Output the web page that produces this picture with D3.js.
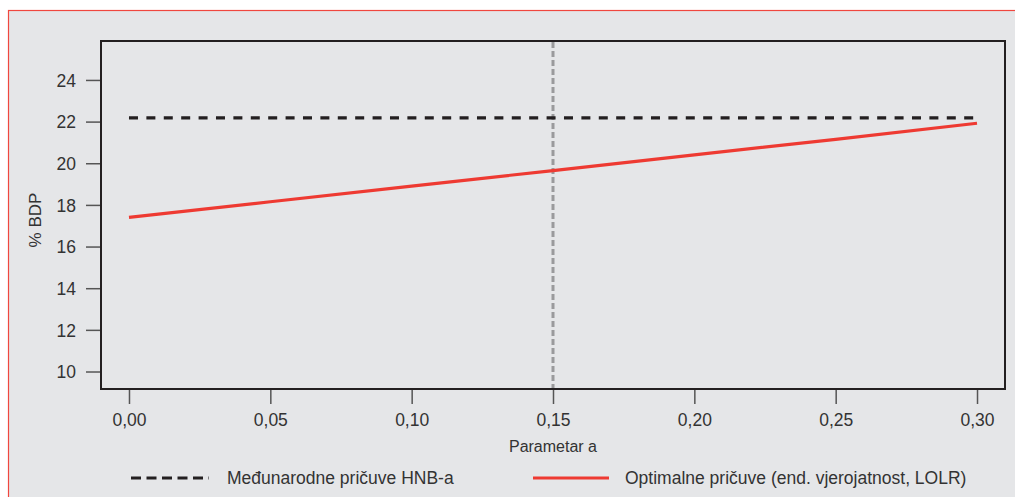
<!DOCTYPE html>
<html>
<head>
<meta charset="utf-8">
<script src="https://cdn.jsdelivr.net/npm/d3@7"></script>
<style>
  body { margin: 0; background: #fff; }
  svg text { font-family: "Liberation Sans", Arial, sans-serif; fill: #333; }
</style>
</head>
<body>
<svg id="chart" width="1015" height="497"></svg>
<script>
// data
var aValues = [0.00, 0.05, 0.10, 0.15, 0.20, 0.25, 0.30];
var hnbReserves = [22.18, 22.18, 22.18, 22.18, 22.18, 22.18, 22.18];
var optimalReserves = [17.40, 18.15, 18.90, 19.65, 20.40, 21.15, 21.92];
var markerA = 0.15;
var yTicks = [10, 12, 14, 16, 18, 20, 22, 24];
var xTicks = [0, 0.05, 0.10, 0.15, 0.20, 0.25, 0.30];
var seriesNames = ["Međunarodne pričuve HNB-a", "Optimalne pričuve (end. vjerojatnost, LOLR)"];

var svg = d3.select("#chart");

// panel background with red frame
svg.append("rect")
  .attr("x", 8.5).attr("y", 10.5)
  .attr("width", 1020).attr("height", 500)
  .attr("fill", "#e5e6e8")
  .attr("stroke", "#f0473f")
  .attr("stroke-width", 1.2);

var pLeft = 101, pRight = 1005, pTop = 41, pBottom = 389;

var x = d3.scaleLinear().domain([-0.0099, 0.3099]).range([pLeft, pRight]);
var y = d3.scaleLinear().domain([9.16, 25.87]).range([pBottom, pTop]);

var fmt = function (d) { return d3.format(".2f")(d).replace(".", ","); };

// axes
var yAxis = svg.append("g")
  .attr("transform", "translate(" + (pLeft - 1) + ",0)")
  .call(d3.axisLeft(y).tickValues(yTicks).tickSize(14).tickPadding(10));
var xAxis = svg.append("g")
  .attr("transform", "translate(0," + (pBottom + 1) + ")")
  .call(d3.axisBottom(x).tickValues(xTicks).tickSize(14).tickPadding(10).tickFormat(fmt));

[yAxis, xAxis].forEach(function (g) {
  g.select(".domain").remove();
  g.selectAll(".tick line").attr("stroke", "#555").attr("stroke-width", 1.5);
  g.selectAll(".tick text")
    .attr("fill", "#333")
    .style("font-size", "17.5px")
    .style("font-family", "'Liberation Sans', Arial, sans-serif");
});
yAxis.selectAll(".tick text").attr("dy", "0.36em");

// plot frame
svg.append("rect")
  .attr("x", pLeft).attr("y", pTop)
  .attr("width", pRight - pLeft).attr("height", pBottom - pTop)
  .attr("fill", "none")
  .attr("stroke", "#231f20")
  .attr("stroke-width", 2);

// vertical marker at a = 0.15
svg.append("line")
  .attr("x1", x(markerA)).attr("x2", x(markerA))
  .attr("y1", pTop + 1).attr("y2", pBottom - 1)
  .attr("stroke", "#9a9a9c")
  .attr("stroke-width", 3)
  .attr("stroke-dasharray", "6,3");

var line = d3.line()
  .x(function (d, i) { return x(aValues[i]); })
  .y(function (d) { return y(d); });

svg.append("path")
  .datum(hnbReserves)
  .attr("d", line)
  .attr("fill", "none")
  .attr("stroke", "#231f20")
  .attr("stroke-width", 3.2)
  .attr("stroke-dasharray", "9,8.4");

svg.append("path")
  .datum(optimalReserves)
  .attr("d", line)
  .attr("fill", "none")
  .attr("stroke", "#ee3a32")
  .attr("stroke-width", 3.2);

// axis titles
svg.append("text")
  .attr("x", x(markerA))
  .attr("y", 452)
  .attr("text-anchor", "middle")
  .style("font-size", "16px")
  .text("Parametar a");

svg.append("text")
  .attr("transform", "translate(41,220) rotate(-90)")
  .attr("text-anchor", "middle")
  .style("font-size", "17px")
  .text("% BDP");

// legend
var legend = [
  { name: seriesNames[0], x1: 131, x2: 209, tx: 227, color: "#231f20", dash: "10,5.5" },
  { name: seriesNames[1], x1: 533, x2: 609, tx: 625, color: "#ee3a32", dash: null }
];
legend.forEach(function (l) {
  svg.append("line")
    .attr("x1", l.x1).attr("x2", l.x2)
    .attr("y1", 478).attr("y2", 478)
    .attr("stroke", l.color)
    .attr("stroke-width", 3.2)
    .attr("stroke-dasharray", l.dash);
  svg.append("text")
    .attr("x", l.tx).attr("y", 484)
    .style("font-size", "17.5px")
    .text(l.name);
});
</script>
</body>
</html>
